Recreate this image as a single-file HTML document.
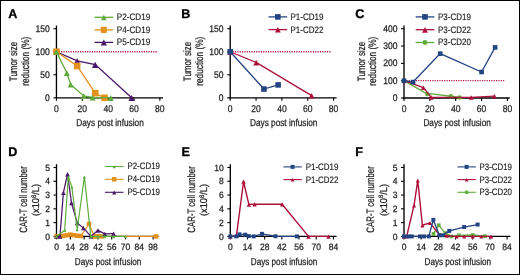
<!DOCTYPE html>
<html><head><meta charset="utf-8"><style>
html,body{margin:0;padding:0;background:#fff;}
svg{display:block;will-change:transform;}
text{font-family:"Liberation Sans", sans-serif;text-rendering:geometricPrecision;}
</style></head><body>
<svg width="520" height="275" viewBox="0 0 520 275" font-family='"Liberation Sans", sans-serif'>
<rect x="0" y="0" width="520" height="275" fill="#fff"/>
<rect x="0.5" y="0.5" width="519" height="274" fill="none" stroke="#000" stroke-width="1"/>
<text x="8.20" y="18.00" font-size="12.6" text-anchor="start" fill="#000" font-weight="bold" stroke="#000" stroke-width="0.3">A</text>
<text x="181.30" y="18.00" font-size="12.6" text-anchor="start" fill="#000" font-weight="bold" stroke="#000" stroke-width="0.3">B</text>
<text x="355.30" y="18.20" font-size="12.6" text-anchor="start" fill="#000" font-weight="bold" stroke="#000" stroke-width="0.3">C</text>
<text x="8.30" y="156.40" font-size="12.6" text-anchor="start" fill="#000" font-weight="bold" stroke="#000" stroke-width="0.3">D</text>
<text x="181.50" y="156.40" font-size="12.6" text-anchor="start" fill="#000" font-weight="bold" stroke="#000" stroke-width="0.3">E</text>
<text x="355.30" y="156.40" font-size="12.6" text-anchor="start" fill="#000" font-weight="bold" stroke="#000" stroke-width="0.3">F</text>
<line x1="56.45" y1="25.60" x2="56.45" y2="98.47" stroke="#000" stroke-width="1.35" />
<line x1="55.78" y1="97.80" x2="163.00" y2="97.80" stroke="#000" stroke-width="1.35" />
<line x1="53.45" y1="97.80" x2="56.45" y2="97.80" stroke="#000" stroke-width="1.1" />
<text x="49.85" y="100.90" font-size="9.6" text-anchor="end" fill="#222" stroke="#222" stroke-width="0.25" textLength="4.75" lengthAdjust="spacingAndGlyphs">0</text>
<line x1="53.45" y1="74.77" x2="56.45" y2="74.77" stroke="#000" stroke-width="1.1" />
<text x="49.85" y="77.86" font-size="9.6" text-anchor="end" fill="#222" stroke="#222" stroke-width="0.25" textLength="9.5" lengthAdjust="spacingAndGlyphs">50</text>
<line x1="53.45" y1="51.73" x2="56.45" y2="51.73" stroke="#000" stroke-width="1.1" />
<text x="49.85" y="54.83" font-size="9.6" text-anchor="end" fill="#222" stroke="#222" stroke-width="0.25" textLength="14.25" lengthAdjust="spacingAndGlyphs">100</text>
<line x1="53.45" y1="28.69" x2="56.45" y2="28.69" stroke="#000" stroke-width="1.1" />
<text x="49.85" y="31.79" font-size="9.6" text-anchor="end" fill="#222" stroke="#222" stroke-width="0.25" textLength="14.25" lengthAdjust="spacingAndGlyphs">150</text>
<line x1="56.45" y1="97.80" x2="56.45" y2="100.80" stroke="#000" stroke-width="1.1" />
<text x="56.45" y="111.60" font-size="9.8" text-anchor="middle" fill="#222" stroke="#222" stroke-width="0.25" textLength="4.75" lengthAdjust="spacingAndGlyphs">0</text>
<line x1="82.30" y1="97.80" x2="82.30" y2="100.80" stroke="#000" stroke-width="1.1" />
<text x="82.30" y="111.60" font-size="9.8" text-anchor="middle" fill="#222" stroke="#222" stroke-width="0.25" textLength="9.5" lengthAdjust="spacingAndGlyphs">20</text>
<line x1="108.15" y1="97.80" x2="108.15" y2="100.80" stroke="#000" stroke-width="1.1" />
<text x="108.15" y="111.60" font-size="9.8" text-anchor="middle" fill="#222" stroke="#222" stroke-width="0.25" textLength="9.5" lengthAdjust="spacingAndGlyphs">40</text>
<line x1="134.00" y1="97.80" x2="134.00" y2="100.80" stroke="#000" stroke-width="1.1" />
<text x="134.00" y="111.60" font-size="9.8" text-anchor="middle" fill="#222" stroke="#222" stroke-width="0.25" textLength="9.5" lengthAdjust="spacingAndGlyphs">60</text>
<line x1="159.85" y1="97.80" x2="159.85" y2="100.80" stroke="#000" stroke-width="1.1" />
<text x="159.85" y="111.60" font-size="9.8" text-anchor="middle" fill="#222" stroke="#222" stroke-width="0.25" textLength="9.5" lengthAdjust="spacingAndGlyphs">80</text>
<text x="110.02" y="126.00" font-size="10" text-anchor="middle" fill="#222" stroke="#222" stroke-width="0.25" textLength="67.5" lengthAdjust="spacingAndGlyphs">Days post infusion</text>
<text x="17.20" y="61.50" font-size="10.8" text-anchor="middle" fill="#222" stroke="#222" stroke-width="0.25" textLength="39.4" lengthAdjust="spacingAndGlyphs" transform="rotate(-90 17.20 61.50)">Tumor size</text>
<text x="28.80" y="61.20" font-size="10.8" text-anchor="middle" fill="#222" stroke="#222" stroke-width="0.25" textLength="49" lengthAdjust="spacingAndGlyphs" transform="rotate(-90 28.80 61.20)">reduction (%)</text>
<line x1="56.45" y1="51.73" x2="157.65" y2="51.73" stroke="#ae0f3b" stroke-width="1.4" stroke-dasharray="1.15 1.21"/>
<path d="M56.45 51.73 L77.13 60.94 L95.22 64.63 L131.67 97.80" fill="none" stroke="#4b1768" stroke-width="1.3" stroke-linejoin="miter"/>
<path d="M56.45 48.85 L59.64 55.01 L53.26 55.01 Z" fill="#4b1768"/>
<path d="M77.13 58.06 L80.32 64.22 L73.94 64.22 Z" fill="#4b1768"/>
<path d="M95.22 61.75 L98.41 67.91 L92.03 67.91 Z" fill="#4b1768"/>
<path d="M131.67 94.92 L134.86 101.08 L128.48 101.08 Z" fill="#4b1768"/>
<path d="M56.45 51.73 L77.13 66.01 L95.22 93.19 L104.53 97.80" fill="none" stroke="#e3901c" stroke-width="1.3" stroke-linejoin="miter"/>
<rect x="53.15" y="48.43" width="6.60" height="6.60" fill="#e3901c"/>
<rect x="73.83" y="62.71" width="6.60" height="6.60" fill="#e3901c"/>
<rect x="91.92" y="89.89" width="6.60" height="6.60" fill="#e3901c"/>
<rect x="101.23" y="94.50" width="6.60" height="6.60" fill="#e3901c"/>
<path d="M56.45 51.73 L66.79 72.92 L70.67 84.44 L83.59 95.96 L92.64 97.34 L110.73 97.80" fill="none" stroke="#5fac3c" stroke-width="1.3" stroke-linejoin="miter"/>
<path d="M56.45 48.99 L59.50 54.87 L53.41 54.87 Z" fill="#5fac3c"/>
<path d="M66.79 70.18 L69.84 76.06 L63.75 76.06 Z" fill="#5fac3c"/>
<path d="M70.67 81.70 L73.71 87.58 L67.62 87.58 Z" fill="#5fac3c"/>
<path d="M83.59 93.22 L86.64 99.10 L80.55 99.10 Z" fill="#5fac3c"/>
<path d="M92.64 94.60 L95.69 100.48 L89.59 100.48 Z" fill="#5fac3c"/>
<path d="M110.73 95.06 L113.78 100.94 L107.69 100.94 Z" fill="#5fac3c"/>
<line x1="94.50" y1="17.30" x2="113.20" y2="17.30" stroke="#5fac3c" stroke-width="1.3" />
<path d="M103.85 14.70 L106.75 20.30 L100.95 20.30 Z" fill="#5fac3c"/>
<text x="116.80" y="20.25" font-size="9.4" text-anchor="start" fill="#222" stroke="#222" stroke-width="0.15" textLength="33.5" lengthAdjust="spacingAndGlyphs">P2-CD19</text>
<line x1="94.50" y1="29.90" x2="113.20" y2="29.90" stroke="#e3901c" stroke-width="1.3" />
<rect x="100.81" y="26.86" width="6.07" height="6.07" fill="#e3901c"/>
<text x="116.80" y="32.85" font-size="9.4" text-anchor="start" fill="#222" stroke="#222" stroke-width="0.15" textLength="33.5" lengthAdjust="spacingAndGlyphs">P4-CD19</text>
<line x1="94.50" y1="42.40" x2="113.20" y2="42.40" stroke="#4b1768" stroke-width="1.3" />
<path d="M103.85 39.58 L106.98 45.62 L100.72 45.62 Z" fill="#4b1768"/>
<text x="116.80" y="45.35" font-size="9.4" text-anchor="start" fill="#222" stroke="#222" stroke-width="0.15" textLength="33.5" lengthAdjust="spacingAndGlyphs">P5-CD19</text>
<line x1="230.20" y1="25.60" x2="230.20" y2="98.47" stroke="#000" stroke-width="1.35" />
<line x1="229.52" y1="97.80" x2="336.60" y2="97.80" stroke="#000" stroke-width="1.35" />
<line x1="227.20" y1="97.80" x2="230.20" y2="97.80" stroke="#000" stroke-width="1.1" />
<text x="223.60" y="100.90" font-size="9.6" text-anchor="end" fill="#222" stroke="#222" stroke-width="0.25" textLength="4.75" lengthAdjust="spacingAndGlyphs">0</text>
<line x1="227.20" y1="74.77" x2="230.20" y2="74.77" stroke="#000" stroke-width="1.1" />
<text x="223.60" y="77.86" font-size="9.6" text-anchor="end" fill="#222" stroke="#222" stroke-width="0.25" textLength="9.5" lengthAdjust="spacingAndGlyphs">50</text>
<line x1="227.20" y1="51.73" x2="230.20" y2="51.73" stroke="#000" stroke-width="1.1" />
<text x="223.60" y="54.83" font-size="9.6" text-anchor="end" fill="#222" stroke="#222" stroke-width="0.25" textLength="14.25" lengthAdjust="spacingAndGlyphs">100</text>
<line x1="227.20" y1="28.69" x2="230.20" y2="28.69" stroke="#000" stroke-width="1.1" />
<text x="223.60" y="31.79" font-size="9.6" text-anchor="end" fill="#222" stroke="#222" stroke-width="0.25" textLength="14.25" lengthAdjust="spacingAndGlyphs">150</text>
<line x1="230.20" y1="97.80" x2="230.20" y2="100.80" stroke="#000" stroke-width="1.1" />
<text x="230.20" y="111.60" font-size="9.8" text-anchor="middle" fill="#222" stroke="#222" stroke-width="0.25" textLength="4.75" lengthAdjust="spacingAndGlyphs">0</text>
<line x1="256.05" y1="97.80" x2="256.05" y2="100.80" stroke="#000" stroke-width="1.1" />
<text x="256.05" y="111.60" font-size="9.8" text-anchor="middle" fill="#222" stroke="#222" stroke-width="0.25" textLength="9.5" lengthAdjust="spacingAndGlyphs">20</text>
<line x1="281.90" y1="97.80" x2="281.90" y2="100.80" stroke="#000" stroke-width="1.1" />
<text x="281.90" y="111.60" font-size="9.8" text-anchor="middle" fill="#222" stroke="#222" stroke-width="0.25" textLength="9.5" lengthAdjust="spacingAndGlyphs">40</text>
<line x1="307.75" y1="97.80" x2="307.75" y2="100.80" stroke="#000" stroke-width="1.1" />
<text x="307.75" y="111.60" font-size="9.8" text-anchor="middle" fill="#222" stroke="#222" stroke-width="0.25" textLength="9.5" lengthAdjust="spacingAndGlyphs">60</text>
<line x1="333.60" y1="97.80" x2="333.60" y2="100.80" stroke="#000" stroke-width="1.1" />
<text x="333.60" y="111.60" font-size="9.8" text-anchor="middle" fill="#222" stroke="#222" stroke-width="0.25" textLength="9.5" lengthAdjust="spacingAndGlyphs">80</text>
<text x="283.70" y="126.00" font-size="10" text-anchor="middle" fill="#222" stroke="#222" stroke-width="0.25" textLength="67.5" lengthAdjust="spacingAndGlyphs">Days post infusion</text>
<text x="191.10" y="61.50" font-size="10.8" text-anchor="middle" fill="#222" stroke="#222" stroke-width="0.25" textLength="39.4" lengthAdjust="spacingAndGlyphs" transform="rotate(-90 191.10 61.50)">Tumor size</text>
<text x="202.70" y="61.20" font-size="10.8" text-anchor="middle" fill="#222" stroke="#222" stroke-width="0.25" textLength="49" lengthAdjust="spacingAndGlyphs" transform="rotate(-90 202.70 61.20)">reduction (%)</text>
<line x1="230.20" y1="51.73" x2="331.40" y2="51.73" stroke="#ae0f3b" stroke-width="1.4" stroke-dasharray="1.15 1.21"/>
<path d="M230.20 51.73 L256.18 62.42 L311.63 95.59" fill="none" stroke="#ae0f3b" stroke-width="1.3" stroke-linejoin="miter"/>
<path d="M230.20 49.13 L233.10 54.73 L227.30 54.73 Z" fill="#ae0f3b"/>
<path d="M256.18 59.82 L259.08 65.42 L253.28 65.42 Z" fill="#ae0f3b"/>
<path d="M311.63 92.99 L314.53 98.59 L308.73 98.59 Z" fill="#ae0f3b"/>
<path d="M230.20 51.73 L263.93 89.05 L278.15 84.90" fill="none" stroke="#234482" stroke-width="1.3" stroke-linejoin="miter"/>
<rect x="227.43" y="48.96" width="5.54" height="5.54" fill="#234482"/>
<rect x="261.16" y="86.27" width="5.54" height="5.54" fill="#234482"/>
<rect x="275.38" y="82.13" width="5.54" height="5.54" fill="#234482"/>
<line x1="268.50" y1="16.90" x2="287.20" y2="16.90" stroke="#234482" stroke-width="1.3" />
<rect x="275.05" y="14.09" width="5.61" height="5.61" fill="#234482"/>
<text x="290.50" y="19.85" font-size="9.4" text-anchor="start" fill="#222" stroke="#222" stroke-width="0.15" textLength="33" lengthAdjust="spacingAndGlyphs">P1-CD19</text>
<line x1="268.50" y1="29.60" x2="287.20" y2="29.60" stroke="#ae0f3b" stroke-width="1.3" />
<path d="M277.85 27.00 L280.75 32.60 L274.95 32.60 Z" fill="#ae0f3b"/>
<text x="290.50" y="32.55" font-size="9.4" text-anchor="start" fill="#222" stroke="#222" stroke-width="0.15" textLength="33" lengthAdjust="spacingAndGlyphs">P1-CD22</text>
<line x1="404.00" y1="25.60" x2="404.00" y2="98.67" stroke="#000" stroke-width="1.35" />
<line x1="403.32" y1="98.00" x2="509.70" y2="98.00" stroke="#000" stroke-width="1.35" />
<line x1="401.00" y1="98.00" x2="404.00" y2="98.00" stroke="#000" stroke-width="1.1" />
<text x="397.40" y="101.10" font-size="9.6" text-anchor="end" fill="#222" stroke="#222" stroke-width="0.25" textLength="4.75" lengthAdjust="spacingAndGlyphs">0</text>
<line x1="401.00" y1="80.67" x2="404.00" y2="80.67" stroke="#000" stroke-width="1.1" />
<text x="397.40" y="83.77" font-size="9.6" text-anchor="end" fill="#222" stroke="#222" stroke-width="0.25" textLength="14.25" lengthAdjust="spacingAndGlyphs">100</text>
<line x1="401.00" y1="63.35" x2="404.00" y2="63.35" stroke="#000" stroke-width="1.1" />
<text x="397.40" y="66.45" font-size="9.6" text-anchor="end" fill="#222" stroke="#222" stroke-width="0.25" textLength="14.25" lengthAdjust="spacingAndGlyphs">200</text>
<line x1="401.00" y1="46.03" x2="404.00" y2="46.03" stroke="#000" stroke-width="1.1" />
<text x="397.40" y="49.13" font-size="9.6" text-anchor="end" fill="#222" stroke="#222" stroke-width="0.25" textLength="14.25" lengthAdjust="spacingAndGlyphs">300</text>
<line x1="401.00" y1="28.70" x2="404.00" y2="28.70" stroke="#000" stroke-width="1.1" />
<text x="397.40" y="31.80" font-size="9.6" text-anchor="end" fill="#222" stroke="#222" stroke-width="0.25" textLength="14.25" lengthAdjust="spacingAndGlyphs">400</text>
<line x1="404.00" y1="98.00" x2="404.00" y2="101.00" stroke="#000" stroke-width="1.1" />
<text x="404.00" y="111.60" font-size="9.8" text-anchor="middle" fill="#222" stroke="#222" stroke-width="0.25" textLength="4.75" lengthAdjust="spacingAndGlyphs">0</text>
<line x1="429.85" y1="98.00" x2="429.85" y2="101.00" stroke="#000" stroke-width="1.1" />
<text x="429.85" y="111.60" font-size="9.8" text-anchor="middle" fill="#222" stroke="#222" stroke-width="0.25" textLength="9.5" lengthAdjust="spacingAndGlyphs">20</text>
<line x1="455.70" y1="98.00" x2="455.70" y2="101.00" stroke="#000" stroke-width="1.1" />
<text x="455.70" y="111.60" font-size="9.8" text-anchor="middle" fill="#222" stroke="#222" stroke-width="0.25" textLength="9.5" lengthAdjust="spacingAndGlyphs">40</text>
<line x1="481.55" y1="98.00" x2="481.55" y2="101.00" stroke="#000" stroke-width="1.1" />
<text x="481.55" y="111.60" font-size="9.8" text-anchor="middle" fill="#222" stroke="#222" stroke-width="0.25" textLength="9.5" lengthAdjust="spacingAndGlyphs">60</text>
<line x1="507.40" y1="98.00" x2="507.40" y2="101.00" stroke="#000" stroke-width="1.1" />
<text x="507.40" y="111.60" font-size="9.8" text-anchor="middle" fill="#222" stroke="#222" stroke-width="0.25" textLength="9.5" lengthAdjust="spacingAndGlyphs">80</text>
<text x="457.15" y="126.00" font-size="10" text-anchor="middle" fill="#222" stroke="#222" stroke-width="0.25" textLength="67.5" lengthAdjust="spacingAndGlyphs">Days post infusion</text>
<text x="364.60" y="61.50" font-size="10.8" text-anchor="middle" fill="#222" stroke="#222" stroke-width="0.25" textLength="39.4" lengthAdjust="spacingAndGlyphs" transform="rotate(-90 364.60 61.50)">Tumor size</text>
<text x="376.20" y="61.20" font-size="10.8" text-anchor="middle" fill="#222" stroke="#222" stroke-width="0.25" textLength="49" lengthAdjust="spacingAndGlyphs" transform="rotate(-90 376.20 61.20)">reduction (%)</text>
<line x1="404.00" y1="80.67" x2="505.20" y2="80.67" stroke="#ae0f3b" stroke-width="1.4" stroke-dasharray="1.15 1.21"/>
<path d="M404.00 80.67 L427.26 94.02 L431.14 93.84 L450.79 96.27 L459.58 97.48" fill="none" stroke="#5fac3c" stroke-width="1.3" stroke-linejoin="miter"/>
<circle cx="404.00" cy="80.67" r="2.26" fill="#5fac3c"/>
<circle cx="427.26" cy="94.02" r="2.26" fill="#5fac3c"/>
<circle cx="450.79" cy="96.27" r="2.26" fill="#5fac3c"/>
<circle cx="459.58" cy="97.48" r="2.26" fill="#5fac3c"/>
<path d="M404.00 80.67 L423.39 87.61 L431.14 97.31 L471.21 97.31 L494.48 96.09" fill="none" stroke="#ae0f3b" stroke-width="1.3" stroke-linejoin="miter"/>
<path d="M404.00 78.58 L406.38 83.17 L401.62 83.17 Z" fill="#ae0f3b"/>
<path d="M423.39 85.51 L425.77 90.10 L421.01 90.10 Z" fill="#ae0f3b"/>
<path d="M431.14 95.21 L433.52 99.80 L428.76 99.80 Z" fill="#ae0f3b"/>
<path d="M471.21 95.21 L473.59 99.80 L468.83 99.80 Z" fill="#ae0f3b"/>
<path d="M494.48 94.00 L496.85 98.59 L492.10 98.59 Z" fill="#ae0f3b"/>
<path d="M404.00 80.67 L413.05 82.06 L440.19 53.65 L481.55 72.01 L495.12 47.41" fill="none" stroke="#234482" stroke-width="1.3" stroke-linejoin="miter"/>
<rect x="401.69" y="78.36" width="4.62" height="4.62" fill="#234482"/>
<rect x="410.74" y="79.75" width="4.62" height="4.62" fill="#234482"/>
<rect x="437.88" y="51.34" width="4.62" height="4.62" fill="#234482"/>
<rect x="479.24" y="69.70" width="4.62" height="4.62" fill="#234482"/>
<rect x="492.81" y="45.10" width="4.62" height="4.62" fill="#234482"/>
<line x1="415.70" y1="16.90" x2="434.30" y2="16.90" stroke="#234482" stroke-width="1.3" />
<rect x="422.19" y="14.09" width="5.61" height="5.61" fill="#234482"/>
<text x="438.00" y="19.85" font-size="9.4" text-anchor="start" fill="#222" stroke="#222" stroke-width="0.15" textLength="33" lengthAdjust="spacingAndGlyphs">P3-CD19</text>
<line x1="415.70" y1="29.70" x2="434.30" y2="29.70" stroke="#ae0f3b" stroke-width="1.3" />
<path d="M425.00 27.10 L427.90 32.70 L422.10 32.70 Z" fill="#ae0f3b"/>
<text x="438.00" y="32.65" font-size="9.4" text-anchor="start" fill="#222" stroke="#222" stroke-width="0.15" textLength="33" lengthAdjust="spacingAndGlyphs">P3-CD22</text>
<line x1="415.70" y1="42.50" x2="434.30" y2="42.50" stroke="#5fac3c" stroke-width="1.3" />
<circle cx="425.00" cy="42.50" r="2.46" fill="#5fac3c"/>
<text x="438.00" y="45.45" font-size="9.4" text-anchor="start" fill="#222" stroke="#222" stroke-width="0.15" textLength="33" lengthAdjust="spacingAndGlyphs">P3-CD20</text>
<line x1="56.50" y1="164.20" x2="56.50" y2="237.08" stroke="#000" stroke-width="1.35" />
<line x1="55.83" y1="236.40" x2="158.50" y2="236.40" stroke="#000" stroke-width="1.35" />
<line x1="53.50" y1="236.40" x2="56.50" y2="236.40" stroke="#000" stroke-width="1.1" />
<text x="49.90" y="239.50" font-size="9.1" text-anchor="end" fill="#222" stroke="#222" stroke-width="0.25" textLength="4.75" lengthAdjust="spacingAndGlyphs">0</text>
<line x1="53.50" y1="222.62" x2="56.50" y2="222.62" stroke="#000" stroke-width="1.1" />
<text x="49.90" y="225.72" font-size="9.1" text-anchor="end" fill="#222" stroke="#222" stroke-width="0.25" textLength="4.75" lengthAdjust="spacingAndGlyphs">1</text>
<line x1="53.50" y1="208.84" x2="56.50" y2="208.84" stroke="#000" stroke-width="1.1" />
<text x="49.90" y="211.94" font-size="9.1" text-anchor="end" fill="#222" stroke="#222" stroke-width="0.25" textLength="4.75" lengthAdjust="spacingAndGlyphs">2</text>
<line x1="53.50" y1="195.06" x2="56.50" y2="195.06" stroke="#000" stroke-width="1.1" />
<text x="49.90" y="198.16" font-size="9.1" text-anchor="end" fill="#222" stroke="#222" stroke-width="0.25" textLength="4.75" lengthAdjust="spacingAndGlyphs">3</text>
<line x1="53.50" y1="181.28" x2="56.50" y2="181.28" stroke="#000" stroke-width="1.1" />
<text x="49.90" y="184.38" font-size="9.1" text-anchor="end" fill="#222" stroke="#222" stroke-width="0.25" textLength="4.75" lengthAdjust="spacingAndGlyphs">4</text>
<line x1="53.50" y1="167.50" x2="56.50" y2="167.50" stroke="#000" stroke-width="1.1" />
<text x="49.90" y="170.60" font-size="9.1" text-anchor="end" fill="#222" stroke="#222" stroke-width="0.25" textLength="4.75" lengthAdjust="spacingAndGlyphs">5</text>
<line x1="56.50" y1="236.40" x2="56.50" y2="239.40" stroke="#000" stroke-width="1.1" />
<text x="56.50" y="250.30" font-size="9.2" text-anchor="middle" fill="#222" stroke="#222" stroke-width="0.25" textLength="4.75" lengthAdjust="spacingAndGlyphs">0</text>
<line x1="70.30" y1="236.40" x2="70.30" y2="239.40" stroke="#000" stroke-width="1.1" />
<text x="70.30" y="250.30" font-size="9.2" text-anchor="middle" fill="#222" stroke="#222" stroke-width="0.25" textLength="9.5" lengthAdjust="spacingAndGlyphs">14</text>
<line x1="84.10" y1="236.40" x2="84.10" y2="239.40" stroke="#000" stroke-width="1.1" />
<text x="84.10" y="250.30" font-size="9.2" text-anchor="middle" fill="#222" stroke="#222" stroke-width="0.25" textLength="9.5" lengthAdjust="spacingAndGlyphs">28</text>
<line x1="97.90" y1="236.40" x2="97.90" y2="239.40" stroke="#000" stroke-width="1.1" />
<text x="97.90" y="250.30" font-size="9.2" text-anchor="middle" fill="#222" stroke="#222" stroke-width="0.25" textLength="9.5" lengthAdjust="spacingAndGlyphs">42</text>
<line x1="111.70" y1="236.40" x2="111.70" y2="239.40" stroke="#000" stroke-width="1.1" />
<text x="111.70" y="250.30" font-size="9.2" text-anchor="middle" fill="#222" stroke="#222" stroke-width="0.25" textLength="9.5" lengthAdjust="spacingAndGlyphs">56</text>
<line x1="125.50" y1="236.40" x2="125.50" y2="239.40" stroke="#000" stroke-width="1.1" />
<text x="125.50" y="250.30" font-size="9.2" text-anchor="middle" fill="#222" stroke="#222" stroke-width="0.25" textLength="9.5" lengthAdjust="spacingAndGlyphs">70</text>
<line x1="139.30" y1="236.40" x2="139.30" y2="239.40" stroke="#000" stroke-width="1.1" />
<text x="139.30" y="250.30" font-size="9.2" text-anchor="middle" fill="#222" stroke="#222" stroke-width="0.25" textLength="9.5" lengthAdjust="spacingAndGlyphs">84</text>
<line x1="153.10" y1="236.40" x2="153.10" y2="239.40" stroke="#000" stroke-width="1.1" />
<text x="153.10" y="250.30" font-size="9.2" text-anchor="middle" fill="#222" stroke="#222" stroke-width="0.25" textLength="9.5" lengthAdjust="spacingAndGlyphs">98</text>
<text x="108.10" y="264.80" font-size="10" text-anchor="middle" fill="#222" stroke="#222" stroke-width="0.25" textLength="66.5" lengthAdjust="spacingAndGlyphs">Days post infusion</text>
<text x="27.00" y="199.40" font-size="10.8" text-anchor="middle" fill="#222" stroke="#222" stroke-width="0.25" textLength="66.5" lengthAdjust="spacingAndGlyphs" transform="rotate(-90 27.00 199.40)">CAR-T cell number</text>
<text x="39.20" y="200.00" font-size="10" text-anchor="middle" fill="#222" stroke="#222" stroke-width="0.25" textLength="32" lengthAdjust="spacingAndGlyphs" transform="rotate(-90 39.20 200.00)">(x10<tspan font-size="6.5" dy="-3.6">8</tspan><tspan dy="3.6">/L)</tspan></text>
<path d="M56.50 236.26 L59.95 236.26 L63.40 235.85 L66.85 235.16 L70.30 234.61 L73.75 235.16 L77.20 235.71 L80.85 235.99 L89.03 224.00 L94.45 236.40 L97.90 236.12 L101.84 236.40 L156.06 236.40" fill="none" stroke="#e3901c" stroke-width="1.2" stroke-linejoin="miter"/>
<rect x="54.26" y="234.02" width="4.49" height="4.49" fill="#e3901c"/>
<rect x="57.71" y="234.02" width="4.49" height="4.49" fill="#e3901c"/>
<rect x="61.16" y="233.60" width="4.49" height="4.49" fill="#e3901c"/>
<rect x="64.61" y="232.92" width="4.49" height="4.49" fill="#e3901c"/>
<rect x="68.06" y="232.36" width="4.49" height="4.49" fill="#e3901c"/>
<rect x="71.51" y="232.92" width="4.49" height="4.49" fill="#e3901c"/>
<rect x="74.96" y="233.47" width="4.49" height="4.49" fill="#e3901c"/>
<rect x="78.60" y="233.74" width="4.49" height="4.49" fill="#e3901c"/>
<rect x="86.78" y="221.75" width="4.49" height="4.49" fill="#e3901c"/>
<rect x="92.21" y="234.16" width="4.49" height="4.49" fill="#e3901c"/>
<rect x="95.66" y="233.88" width="4.49" height="4.49" fill="#e3901c"/>
<rect x="99.60" y="234.16" width="4.49" height="4.49" fill="#e3901c"/>
<rect x="153.81" y="234.16" width="4.49" height="4.49" fill="#e3901c"/>
<path d="M56.50 236.40 L59.95 236.40 L63.40 192.58 L67.54 174.11 L71.48 202.78 L77.20 222.90 L83.31 227.86 L91.00 236.40 L97.90 230.34 L104.80 233.78 L113.67 233.64" fill="none" stroke="#4b1768" stroke-width="1.25" stroke-linejoin="miter"/>
<path d="M56.50 234.36 L58.82 238.84 L54.18 238.84 Z" fill="#4b1768"/>
<path d="M59.95 234.36 L62.27 238.84 L57.63 238.84 Z" fill="#4b1768"/>
<path d="M63.40 190.54 L65.72 195.02 L61.08 195.02 Z" fill="#4b1768"/>
<path d="M67.54 172.07 L69.86 176.55 L65.22 176.55 Z" fill="#4b1768"/>
<path d="M71.48 200.74 L73.80 205.22 L69.16 205.22 Z" fill="#4b1768"/>
<path d="M77.20 220.86 L79.52 225.34 L74.88 225.34 Z" fill="#4b1768"/>
<path d="M83.31 225.82 L85.63 230.30 L80.99 230.30 Z" fill="#4b1768"/>
<path d="M91.00 234.36 L93.32 238.84 L88.68 238.84 Z" fill="#4b1768"/>
<path d="M97.90 228.30 L100.22 232.78 L95.58 232.78 Z" fill="#4b1768"/>
<path d="M104.80 231.74 L107.12 236.22 L102.48 236.22 Z" fill="#4b1768"/>
<path d="M113.67 231.60 L115.99 236.08 L111.35 236.08 Z" fill="#4b1768"/>
<path d="M56.50 236.40 L64.68 230.20 L68.33 176.73 L71.88 187.07 L77.20 229.51 L84.40 176.73 L90.80 236.40 L97.90 236.40 L104.80 236.40 L113.67 236.40 L125.50 236.40" fill="none" stroke="#5fac3c" stroke-width="1.2" stroke-linejoin="miter"/>
<path d="M56.50 235.06 L58.09 238.14 L54.91 238.14 Z" fill="#5fac3c"/>
<path d="M64.68 228.86 L66.28 231.94 L63.09 231.94 Z" fill="#5fac3c"/>
<path d="M68.33 175.39 L69.92 178.47 L66.73 178.47 Z" fill="#5fac3c"/>
<path d="M71.88 185.73 L73.47 188.81 L70.28 188.81 Z" fill="#5fac3c"/>
<path d="M77.20 228.17 L78.79 231.25 L75.60 231.25 Z" fill="#5fac3c"/>
<path d="M84.40 175.39 L85.99 178.47 L82.80 178.47 Z" fill="#5fac3c"/>
<path d="M90.80 235.06 L92.40 238.14 L89.21 238.14 Z" fill="#5fac3c"/>
<path d="M97.90 235.06 L99.49 238.14 L96.30 238.14 Z" fill="#5fac3c"/>
<path d="M104.80 235.06 L106.39 238.14 L103.20 238.14 Z" fill="#5fac3c"/>
<path d="M113.67 235.06 L115.27 238.14 L112.08 238.14 Z" fill="#5fac3c"/>
<path d="M125.50 235.06 L127.09 238.14 L123.90 238.14 Z" fill="#5fac3c"/>
<line x1="104.90" y1="166.50" x2="123.50" y2="166.50" stroke="#5fac3c" stroke-width="1.1" />
<path d="M114.20 165.16 L115.80 168.24 L112.61 168.24 Z" fill="#5fac3c"/>
<text x="127.40" y="169.45" font-size="9.4" text-anchor="start" fill="#222" stroke="#222" stroke-width="0.15" textLength="32.6" lengthAdjust="spacingAndGlyphs">P2-CD19</text>
<line x1="104.90" y1="179.30" x2="123.50" y2="179.30" stroke="#e3901c" stroke-width="1.1" />
<rect x="111.96" y="177.06" width="4.49" height="4.49" fill="#e3901c"/>
<text x="127.40" y="182.25" font-size="9.4" text-anchor="start" fill="#222" stroke="#222" stroke-width="0.15" textLength="32.6" lengthAdjust="spacingAndGlyphs">P4-CD19</text>
<line x1="104.90" y1="192.30" x2="123.50" y2="192.30" stroke="#4b1768" stroke-width="1.1" />
<path d="M114.20 190.48 L116.29 194.52 L112.11 194.52 Z" fill="#4b1768"/>
<text x="127.40" y="195.25" font-size="9.4" text-anchor="start" fill="#222" stroke="#222" stroke-width="0.15" textLength="32.6" lengthAdjust="spacingAndGlyphs">P5-CD19</text>
<line x1="230.30" y1="164.20" x2="230.30" y2="237.08" stroke="#000" stroke-width="1.35" />
<line x1="229.62" y1="236.40" x2="336.60" y2="236.40" stroke="#000" stroke-width="1.35" />
<line x1="227.30" y1="236.40" x2="230.30" y2="236.40" stroke="#000" stroke-width="1.1" />
<text x="223.70" y="239.50" font-size="9.1" text-anchor="end" fill="#222" stroke="#222" stroke-width="0.25" textLength="4.75" lengthAdjust="spacingAndGlyphs">0</text>
<line x1="227.30" y1="222.62" x2="230.30" y2="222.62" stroke="#000" stroke-width="1.1" />
<text x="223.70" y="225.72" font-size="9.1" text-anchor="end" fill="#222" stroke="#222" stroke-width="0.25" textLength="4.75" lengthAdjust="spacingAndGlyphs">2</text>
<line x1="227.30" y1="208.84" x2="230.30" y2="208.84" stroke="#000" stroke-width="1.1" />
<text x="223.70" y="211.94" font-size="9.1" text-anchor="end" fill="#222" stroke="#222" stroke-width="0.25" textLength="4.75" lengthAdjust="spacingAndGlyphs">4</text>
<line x1="227.30" y1="195.06" x2="230.30" y2="195.06" stroke="#000" stroke-width="1.1" />
<text x="223.70" y="198.16" font-size="9.1" text-anchor="end" fill="#222" stroke="#222" stroke-width="0.25" textLength="4.75" lengthAdjust="spacingAndGlyphs">6</text>
<line x1="227.30" y1="181.28" x2="230.30" y2="181.28" stroke="#000" stroke-width="1.1" />
<text x="223.70" y="184.38" font-size="9.1" text-anchor="end" fill="#222" stroke="#222" stroke-width="0.25" textLength="4.75" lengthAdjust="spacingAndGlyphs">8</text>
<line x1="227.30" y1="167.50" x2="230.30" y2="167.50" stroke="#000" stroke-width="1.1" />
<text x="223.70" y="170.60" font-size="9.1" text-anchor="end" fill="#222" stroke="#222" stroke-width="0.25" textLength="9.5" lengthAdjust="spacingAndGlyphs">10</text>
<line x1="230.30" y1="236.40" x2="230.30" y2="239.40" stroke="#000" stroke-width="1.1" />
<text x="230.30" y="250.30" font-size="9.2" text-anchor="middle" fill="#222" stroke="#222" stroke-width="0.25" textLength="4.75" lengthAdjust="spacingAndGlyphs">0</text>
<line x1="247.48" y1="236.40" x2="247.48" y2="239.40" stroke="#000" stroke-width="1.1" />
<text x="247.48" y="250.30" font-size="9.2" text-anchor="middle" fill="#222" stroke="#222" stroke-width="0.25" textLength="9.5" lengthAdjust="spacingAndGlyphs">14</text>
<line x1="264.67" y1="236.40" x2="264.67" y2="239.40" stroke="#000" stroke-width="1.1" />
<text x="264.67" y="250.30" font-size="9.2" text-anchor="middle" fill="#222" stroke="#222" stroke-width="0.25" textLength="9.5" lengthAdjust="spacingAndGlyphs">28</text>
<line x1="281.85" y1="236.40" x2="281.85" y2="239.40" stroke="#000" stroke-width="1.1" />
<text x="281.85" y="250.30" font-size="9.2" text-anchor="middle" fill="#222" stroke="#222" stroke-width="0.25" textLength="9.5" lengthAdjust="spacingAndGlyphs">42</text>
<line x1="299.03" y1="236.40" x2="299.03" y2="239.40" stroke="#000" stroke-width="1.1" />
<text x="299.03" y="250.30" font-size="9.2" text-anchor="middle" fill="#222" stroke="#222" stroke-width="0.25" textLength="9.5" lengthAdjust="spacingAndGlyphs">56</text>
<line x1="316.22" y1="236.40" x2="316.22" y2="239.40" stroke="#000" stroke-width="1.1" />
<text x="316.22" y="250.30" font-size="9.2" text-anchor="middle" fill="#222" stroke="#222" stroke-width="0.25" textLength="9.5" lengthAdjust="spacingAndGlyphs">70</text>
<line x1="333.40" y1="236.40" x2="333.40" y2="239.40" stroke="#000" stroke-width="1.1" />
<text x="333.40" y="250.30" font-size="9.2" text-anchor="middle" fill="#222" stroke="#222" stroke-width="0.25" textLength="9.5" lengthAdjust="spacingAndGlyphs">84</text>
<text x="284.05" y="264.80" font-size="10" text-anchor="middle" fill="#222" stroke="#222" stroke-width="0.25" textLength="66.5" lengthAdjust="spacingAndGlyphs">Days post infusion</text>
<text x="195.00" y="199.40" font-size="10.8" text-anchor="middle" fill="#222" stroke="#222" stroke-width="0.25" textLength="66.5" lengthAdjust="spacingAndGlyphs" transform="rotate(-90 195.00 199.40)">CAR-T cell number</text>
<text x="207.30" y="200.00" font-size="10" text-anchor="middle" fill="#222" stroke="#222" stroke-width="0.25" textLength="32" lengthAdjust="spacingAndGlyphs" transform="rotate(-90 207.30 200.00)">(x10<tspan font-size="6.5" dy="-3.6">8</tspan><tspan dy="3.6">/L)</tspan></text>
<path d="M230.30 236.40 L236.44 235.71 L243.56 181.49 L248.83 204.36 L254.60 204.22 L282.10 204.22 L308.49 236.40 L328.49 236.40" fill="none" stroke="#ae0f3b" stroke-width="1.4" stroke-linejoin="miter"/>
<path d="M230.30 234.50 L232.48 238.70 L228.12 238.70 Z" fill="#ae0f3b"/>
<path d="M236.44 233.81 L238.61 238.01 L234.26 238.01 Z" fill="#ae0f3b"/>
<path d="M243.56 179.59 L245.73 183.79 L241.38 183.79 Z" fill="#ae0f3b"/>
<path d="M248.83 202.46 L251.01 206.66 L246.66 206.66 Z" fill="#ae0f3b"/>
<path d="M254.60 202.32 L256.78 206.52 L252.43 206.52 Z" fill="#ae0f3b"/>
<path d="M282.10 202.32 L284.27 206.52 L279.92 206.52 Z" fill="#ae0f3b"/>
<path d="M308.49 234.50 L310.66 238.70 L306.31 238.70 Z" fill="#ae0f3b"/>
<path d="M328.49 234.50 L330.67 238.70 L326.32 238.70 Z" fill="#ae0f3b"/>
<path d="M230.30 236.40 L236.44 236.40 L239.51 234.33 L245.27 234.68 L248.71 236.06 L253.62 236.40 L261.97 233.85 L275.47 236.26 L296.95 236.40" fill="none" stroke="#234482" stroke-width="1.3" stroke-linejoin="miter"/>
<rect x="228.32" y="234.42" width="3.96" height="3.96" fill="#234482"/>
<rect x="234.46" y="234.42" width="3.96" height="3.96" fill="#234482"/>
<rect x="237.53" y="232.35" width="3.96" height="3.96" fill="#234482"/>
<rect x="243.29" y="232.70" width="3.96" height="3.96" fill="#234482"/>
<rect x="246.73" y="234.08" width="3.96" height="3.96" fill="#234482"/>
<rect x="251.64" y="234.42" width="3.96" height="3.96" fill="#234482"/>
<rect x="259.99" y="231.87" width="3.96" height="3.96" fill="#234482"/>
<rect x="273.49" y="234.28" width="3.96" height="3.96" fill="#234482"/>
<rect x="294.97" y="234.42" width="3.96" height="3.96" fill="#234482"/>
<line x1="283.40" y1="166.90" x2="301.80" y2="166.90" stroke="#234482" stroke-width="1.1" />
<rect x="290.62" y="164.92" width="3.96" height="3.96" fill="#234482"/>
<text x="305.70" y="169.85" font-size="9.4" text-anchor="start" fill="#222" stroke="#222" stroke-width="0.15" textLength="32.6" lengthAdjust="spacingAndGlyphs">P1-CD19</text>
<line x1="283.40" y1="179.60" x2="301.80" y2="179.60" stroke="#ae0f3b" stroke-width="1.1" />
<path d="M292.60 177.98 L294.49 181.62 L290.72 181.62 Z" fill="#ae0f3b"/>
<text x="305.70" y="182.55" font-size="9.4" text-anchor="start" fill="#222" stroke="#222" stroke-width="0.15" textLength="32.6" lengthAdjust="spacingAndGlyphs">P1-CD22</text>
<line x1="404.00" y1="164.20" x2="404.00" y2="237.08" stroke="#000" stroke-width="1.35" />
<line x1="403.32" y1="236.40" x2="510.40" y2="236.40" stroke="#000" stroke-width="1.35" />
<line x1="401.00" y1="236.40" x2="404.00" y2="236.40" stroke="#000" stroke-width="1.1" />
<text x="397.40" y="239.50" font-size="9.1" text-anchor="end" fill="#222" stroke="#222" stroke-width="0.25" textLength="4.75" lengthAdjust="spacingAndGlyphs">0</text>
<line x1="401.00" y1="222.62" x2="404.00" y2="222.62" stroke="#000" stroke-width="1.1" />
<text x="397.40" y="225.72" font-size="9.1" text-anchor="end" fill="#222" stroke="#222" stroke-width="0.25" textLength="4.75" lengthAdjust="spacingAndGlyphs">1</text>
<line x1="401.00" y1="208.84" x2="404.00" y2="208.84" stroke="#000" stroke-width="1.1" />
<text x="397.40" y="211.94" font-size="9.1" text-anchor="end" fill="#222" stroke="#222" stroke-width="0.25" textLength="4.75" lengthAdjust="spacingAndGlyphs">2</text>
<line x1="401.00" y1="195.06" x2="404.00" y2="195.06" stroke="#000" stroke-width="1.1" />
<text x="397.40" y="198.16" font-size="9.1" text-anchor="end" fill="#222" stroke="#222" stroke-width="0.25" textLength="4.75" lengthAdjust="spacingAndGlyphs">3</text>
<line x1="401.00" y1="181.28" x2="404.00" y2="181.28" stroke="#000" stroke-width="1.1" />
<text x="397.40" y="184.38" font-size="9.1" text-anchor="end" fill="#222" stroke="#222" stroke-width="0.25" textLength="4.75" lengthAdjust="spacingAndGlyphs">4</text>
<line x1="401.00" y1="167.50" x2="404.00" y2="167.50" stroke="#000" stroke-width="1.1" />
<text x="397.40" y="170.60" font-size="9.1" text-anchor="end" fill="#222" stroke="#222" stroke-width="0.25" textLength="4.75" lengthAdjust="spacingAndGlyphs">5</text>
<line x1="404.00" y1="236.40" x2="404.00" y2="239.40" stroke="#000" stroke-width="1.1" />
<text x="404.00" y="250.30" font-size="9.2" text-anchor="middle" fill="#222" stroke="#222" stroke-width="0.25" textLength="4.75" lengthAdjust="spacingAndGlyphs">0</text>
<line x1="421.18" y1="236.40" x2="421.18" y2="239.40" stroke="#000" stroke-width="1.1" />
<text x="421.18" y="250.30" font-size="9.2" text-anchor="middle" fill="#222" stroke="#222" stroke-width="0.25" textLength="9.5" lengthAdjust="spacingAndGlyphs">14</text>
<line x1="438.37" y1="236.40" x2="438.37" y2="239.40" stroke="#000" stroke-width="1.1" />
<text x="438.37" y="250.30" font-size="9.2" text-anchor="middle" fill="#222" stroke="#222" stroke-width="0.25" textLength="9.5" lengthAdjust="spacingAndGlyphs">28</text>
<line x1="455.55" y1="236.40" x2="455.55" y2="239.40" stroke="#000" stroke-width="1.1" />
<text x="455.55" y="250.30" font-size="9.2" text-anchor="middle" fill="#222" stroke="#222" stroke-width="0.25" textLength="9.5" lengthAdjust="spacingAndGlyphs">42</text>
<line x1="472.73" y1="236.40" x2="472.73" y2="239.40" stroke="#000" stroke-width="1.1" />
<text x="472.73" y="250.30" font-size="9.2" text-anchor="middle" fill="#222" stroke="#222" stroke-width="0.25" textLength="9.5" lengthAdjust="spacingAndGlyphs">56</text>
<line x1="489.92" y1="236.40" x2="489.92" y2="239.40" stroke="#000" stroke-width="1.1" />
<text x="489.92" y="250.30" font-size="9.2" text-anchor="middle" fill="#222" stroke="#222" stroke-width="0.25" textLength="9.5" lengthAdjust="spacingAndGlyphs">70</text>
<line x1="507.10" y1="236.40" x2="507.10" y2="239.40" stroke="#000" stroke-width="1.1" />
<text x="507.10" y="250.30" font-size="9.2" text-anchor="middle" fill="#222" stroke="#222" stroke-width="0.25" textLength="9.5" lengthAdjust="spacingAndGlyphs">84</text>
<text x="457.80" y="264.80" font-size="10" text-anchor="middle" fill="#222" stroke="#222" stroke-width="0.25" textLength="66.5" lengthAdjust="spacingAndGlyphs">Days post infusion</text>
<text x="374.40" y="199.40" font-size="10.8" text-anchor="middle" fill="#222" stroke="#222" stroke-width="0.25" textLength="66.5" lengthAdjust="spacingAndGlyphs" transform="rotate(-90 374.40 199.40)">CAR-T cell number</text>
<text x="386.70" y="200.00" font-size="10" text-anchor="middle" fill="#222" stroke="#222" stroke-width="0.25" textLength="32" lengthAdjust="spacingAndGlyphs" transform="rotate(-90 386.70 200.00)">(x10<tspan font-size="6.5" dy="-3.6">8</tspan><tspan dy="3.6">/L)</tspan></text>
<path d="M433.46 233.92 L438.74 225.24 L445.36 233.09 L451.38 236.40 L458.99 235.30 L472.73 235.02 L485.01 236.12" fill="none" stroke="#5fac3c" stroke-width="1.3" stroke-linejoin="miter"/>
<rect x="431.64" y="232.10" width="3.63" height="3.63" fill="#5fac3c"/>
<rect x="436.92" y="223.42" width="3.63" height="3.63" fill="#5fac3c"/>
<rect x="443.55" y="231.28" width="3.63" height="3.63" fill="#5fac3c"/>
<rect x="449.56" y="234.59" width="3.63" height="3.63" fill="#5fac3c"/>
<rect x="457.17" y="233.48" width="3.63" height="3.63" fill="#5fac3c"/>
<rect x="470.92" y="233.21" width="3.63" height="3.63" fill="#5fac3c"/>
<rect x="483.19" y="234.31" width="3.63" height="3.63" fill="#5fac3c"/>
<path d="M404.00 236.40 L406.70 236.40 L414.06 205.26 L417.75 180.32 L422.41 225.24 L430.02 222.90 L438.98 234.33 L446.96 235.71 L456.78 236.40 L464.14 236.40 L472.73 236.40 L481.33 236.40 L491.15 236.40" fill="none" stroke="#ae0f3b" stroke-width="1.4" stroke-linejoin="miter"/>
<path d="M404.00 234.64 L406.03 238.56 L401.97 238.56 Z" fill="#ae0f3b"/>
<path d="M406.70 234.64 L408.73 238.56 L404.67 238.56 Z" fill="#ae0f3b"/>
<path d="M414.06 203.50 L416.09 207.42 L412.03 207.42 Z" fill="#ae0f3b"/>
<path d="M417.75 178.56 L419.78 182.48 L415.72 182.48 Z" fill="#ae0f3b"/>
<path d="M422.41 223.48 L424.44 227.40 L420.38 227.40 Z" fill="#ae0f3b"/>
<path d="M430.02 221.14 L432.05 225.06 L427.99 225.06 Z" fill="#ae0f3b"/>
<path d="M438.98 232.57 L441.01 236.49 L436.95 236.49 Z" fill="#ae0f3b"/>
<path d="M446.96 233.95 L448.99 237.87 L444.93 237.87 Z" fill="#ae0f3b"/>
<path d="M456.78 234.64 L458.81 238.56 L454.75 238.56 Z" fill="#ae0f3b"/>
<path d="M464.14 234.64 L466.17 238.56 L462.11 238.56 Z" fill="#ae0f3b"/>
<path d="M472.73 234.64 L474.76 238.56 L470.70 238.56 Z" fill="#ae0f3b"/>
<path d="M481.33 234.64 L483.36 238.56 L479.30 238.56 Z" fill="#ae0f3b"/>
<path d="M491.15 234.64 L493.18 238.56 L489.12 238.56 Z" fill="#ae0f3b"/>
<path d="M404.00 236.40 L408.30 236.40 L411.86 236.40 L419.96 236.40 L424.01 236.40 L428.79 236.40 L433.33 219.86 L439.35 235.30 L442.54 235.30 L449.29 230.89 L464.14 227.03 L477.64 224.55" fill="none" stroke="#234482" stroke-width="1.3" stroke-linejoin="miter"/>
<rect x="402.02" y="234.42" width="3.96" height="3.96" fill="#234482"/>
<rect x="406.32" y="234.42" width="3.96" height="3.96" fill="#234482"/>
<rect x="409.88" y="234.42" width="3.96" height="3.96" fill="#234482"/>
<rect x="417.98" y="234.42" width="3.96" height="3.96" fill="#234482"/>
<rect x="422.03" y="234.42" width="3.96" height="3.96" fill="#234482"/>
<rect x="426.81" y="234.42" width="3.96" height="3.96" fill="#234482"/>
<rect x="431.35" y="217.88" width="3.96" height="3.96" fill="#234482"/>
<rect x="437.37" y="233.32" width="3.96" height="3.96" fill="#234482"/>
<rect x="440.56" y="233.32" width="3.96" height="3.96" fill="#234482"/>
<rect x="447.31" y="228.91" width="3.96" height="3.96" fill="#234482"/>
<rect x="462.16" y="225.05" width="3.96" height="3.96" fill="#234482"/>
<rect x="475.66" y="222.57" width="3.96" height="3.96" fill="#234482"/>
<line x1="457.40" y1="166.90" x2="475.80" y2="166.90" stroke="#234482" stroke-width="1.1" />
<rect x="464.62" y="164.92" width="3.96" height="3.96" fill="#234482"/>
<text x="479.50" y="169.85" font-size="9.4" text-anchor="start" fill="#222" stroke="#222" stroke-width="0.15" textLength="32.5" lengthAdjust="spacingAndGlyphs">P3-CD19</text>
<line x1="457.40" y1="179.60" x2="475.80" y2="179.60" stroke="#ae0f3b" stroke-width="1.1" />
<path d="M466.60 178.06 L468.40 181.54 L464.80 181.54 Z" fill="#ae0f3b"/>
<text x="479.50" y="182.55" font-size="9.4" text-anchor="start" fill="#222" stroke="#222" stroke-width="0.15" textLength="32.5" lengthAdjust="spacingAndGlyphs">P3-CD22</text>
<line x1="457.40" y1="192.30" x2="475.80" y2="192.30" stroke="#5fac3c" stroke-width="1.1" />
<rect x="464.95" y="190.65" width="3.30" height="3.30" fill="#5fac3c"/>
<text x="479.50" y="195.25" font-size="9.4" text-anchor="start" fill="#222" stroke="#222" stroke-width="0.15" textLength="32.5" lengthAdjust="spacingAndGlyphs">P3-CD20</text>
</svg>
</body></html>
